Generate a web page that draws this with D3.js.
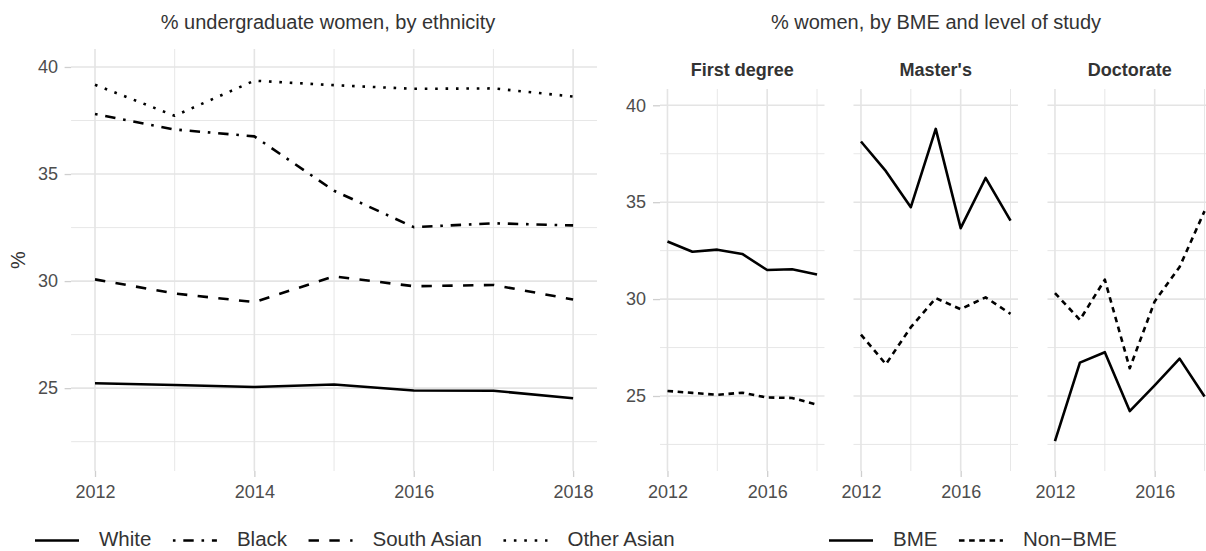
<!DOCTYPE html>
<html>
<head>
<meta charset="utf-8">
<script src="https://cdn.jsdelivr.net/npm/d3@7"></script>
<style>
  html, body { margin: 0; padding: 0; background: #fff; }
  svg { display: block; font-family: "Liberation Sans", Arial, Helvetica, sans-serif; }
</style>
</head>
<body>
<svg id="chart" width="1206" height="551"></svg>
<script>
// ---------------- DATA ----------------
const years = [2012, 2013, 2014, 2015, 2016, 2017, 2018];

// Left: % undergraduate women, by ethnicity
const ethnicities = ["White", "Black", "South Asian", "Other Asian"];
const white      = [25.23, 25.15, 25.05, 25.17, 24.89, 24.88, 24.53];
const black      = [37.80, 37.08, 36.76, 34.22, 32.52, 32.70, 32.60];
const southAsian = [30.08, 29.42, 29.02, 30.22, 29.76, 29.82, 29.14];
const otherAsian = [39.17, 37.72, 39.36, 39.15, 38.98, 39.00, 38.62];

// Right: % women, by BME and level of study
const levels = ["First degree", "Master's", "Doctorate"];
const groups = ["BME", "Non\u2212BME"];
const firstBME      = [32.97, 32.44, 32.55, 32.33, 31.50, 31.54, 31.27];
const firstNonBME   = [25.26, 25.16, 25.06, 25.17, 24.92, 24.90, 24.55];
const mastersBME    = [38.13, 36.60, 34.74, 38.78, 33.66, 36.25, 34.05];
const mastersNonBME = [28.17, 26.64, 28.55, 30.05, 29.48, 30.09, 29.24];
const doctBME       = [22.67, 26.72, 27.26, 24.22, 25.55, 26.93, 24.97];
const doctNonBME    = [30.31, 28.93, 31.00, 26.43, 29.88, 31.66, 34.54];

// Ticks
const yTicks = [25, 30, 35, 40];
const yMinor = [22.5, 27.5, 32.5, 37.5];
const xTicksLeft = [2012, 2014, 2016, 2018];
const xMinorLeft = [2013, 2015, 2017];
const xTicksRight = [2012, 2016];
const xMinorRight = [2014, 2018];

// ---------------- LAYOUT / STYLE ----------------
const svg = d3.select("#chart");
const W = 1206, H = 551;
svg.append("rect").attr("width", W).attr("height", H).attr("fill", "#fff");

const lw = 2.6;
const dashes = {
  "White": null,
  "Black": [lw, 3*lw, 4*lw, 3*lw].join(","),
  "South Asian": [4*lw, 4*lw].join(","),
  "Other Asian": [lw, 3*lw].join(","),
  "BME": null,
  "Non\u2212BME": [5.6, 4.6].join(",")
};
const gridCol = "#E4E4E4";
const tickCol = "#CFCFCF";
const axisTextCol = "#4D4D4D";
const textCol = "#333333";
const yDomain = [21.13, 40.84];
const panelBottom = 471;

function drawGrid(g, x, y, xMaj, xMin, y0, y1, x0, x1) {
  g.selectAll(".ymin").data(yMinor).join("line")
    .attr("x1", x0).attr("x2", x1).attr("y1", d => y(d)).attr("y2", d => y(d))
    .attr("stroke", gridCol).attr("stroke-width", 0.9);
  g.selectAll(".xmin").data(xMin).join("line").attr("class","xmin")
    .attr("y1", y0).attr("y2", y1).attr("x1", d => x(d)).attr("x2", d => x(d))
    .attr("stroke", gridCol).attr("stroke-width", 0.9);
  g.selectAll(".ymaj").data(yTicks).join("line").attr("class","ymaj")
    .attr("x1", x0).attr("x2", x1).attr("y1", d => y(d)).attr("y2", d => y(d))
    .attr("stroke", gridCol).attr("stroke-width", 1.6);
  g.selectAll(".xmaj").data(xMaj).join("line").attr("class","xmaj")
    .attr("y1", y0).attr("y2", y1).attr("x1", d => x(d)).attr("x2", d => x(d))
    .attr("stroke", gridCol).attr("stroke-width", 1.6);
}

function styleAxis(sel) {
  sel.select(".domain").remove();
  sel.selectAll(".tick line").attr("stroke", tickCol).attr("stroke-width", 1.3);
  sel.selectAll(".tick text").attr("fill", axisTextCol).style("font-size", "18px")
    .style("font-family", "'Liberation Sans', Arial, sans-serif");
}

const line = (x, y) => d3.line().x((d, i) => x(years[i])).y(d => y(d));

// ---------------- LEFT PLOT ----------------
const L = { x0: 71.1, x1: 597, top: 49, bottom: panelBottom };
const xL = d3.scaleLinear().domain([2011.7, 2018.3]).range([L.x0, L.x1]);
const yL = d3.scaleLinear().domain(yDomain).range([L.bottom, L.top]);
const gL = svg.append("g");
drawGrid(gL, xL, yL, xTicksLeft, xMinorLeft, L.top, L.bottom, L.x0, L.x1);

gL.append("g").attr("transform", `translate(${L.x0},0)`)
  .call(d3.axisLeft(yL).tickValues(yTicks).tickSize(6.5).tickPadding(6.5).tickFormat(d3.format("d")))
  .call(styleAxis);
gL.append("g").attr("transform", `translate(0,${L.bottom})`)
  .call(d3.axisBottom(xL).tickValues(xTicksLeft).tickSize(6).tickPadding(8).tickFormat(d3.format("d")))
  .call(styleAxis);

const leftSeries = [white, black, southAsian, otherAsian];
ethnicities.forEach((name, k) => {
  gL.append("path").datum(leftSeries[k])
    .attr("d", line(xL, yL))
    .attr("fill", "none").attr("stroke", "#000").attr("stroke-width", lw)
    .attr("stroke-linejoin", "round").attr("stroke-linecap", "butt")
    .attr("stroke-dasharray", dashes[name]);
});

svg.append("text").attr("x", (L.x0 + L.x1) / 2 - 6).attr("y", 29)
  .attr("text-anchor", "middle").attr("fill", textCol).style("font-size", "20px")
  .text("% undergraduate women, by ethnicity");

svg.append("text").attr("transform", `translate(25,${(L.top + L.bottom) / 2}) rotate(-90)`)
  .attr("text-anchor", "middle").attr("fill", textCol).style("font-size", "20px")
  .text("%");

// ---------------- RIGHT PLOT (facets) ----------------
const R = { top: 89, bottom: panelBottom, width: 164.5, starts: [660, 853.5, 1047.5] };
const yR = d3.scaleLinear().domain(yDomain).range([R.bottom, R.top]);
const rightSeries = [[firstBME, firstNonBME], [mastersBME, mastersNonBME], [doctBME, doctNonBME]];

levels.forEach((lev, f) => {
  const x0 = R.starts[f], x1 = x0 + R.width;
  const xR = d3.scaleLinear().domain([2011.7, 2018.3]).range([x0, x1]);
  const g = svg.append("g");
  drawGrid(g, xR, yR, xTicksRight, xMinorRight, R.top, R.bottom, x0, x1);
  if (f === 0) {
    g.append("g").attr("transform", `translate(${x0},0)`)
      .call(d3.axisLeft(yR).tickValues(yTicks).tickSize(7).tickPadding(7).tickFormat(d3.format("d")))
      .call(styleAxis);
  }
  g.append("g").attr("transform", `translate(0,${R.bottom})`)
    .call(d3.axisBottom(xR).tickValues(xTicksRight).tickSize(6).tickPadding(8).tickFormat(d3.format("d")))
    .call(styleAxis);
  groups.forEach((grp, k) => {
    g.append("path").datum(rightSeries[f][k])
      .attr("d", line(xR, yR))
      .attr("fill", "none").attr("stroke", "#000").attr("stroke-width", lw)
      .attr("stroke-linejoin", "round").attr("stroke-linecap", "butt")
      .attr("stroke-dasharray", dashes[grp]);
  });
  svg.append("text").attr("x", (x0 + x1) / 2).attr("y", 75.5)
    .attr("text-anchor", "middle").attr("fill", textCol)
    .style("font-size", "18px").style("font-weight", "bold")
    .text(lev);
});

svg.append("text").attr("x", (R.starts[0] + R.starts[2] + R.width) / 2).attr("y", 29)
  .attr("text-anchor", "middle").attr("fill", textCol).style("font-size", "20px")
  .text("% women, by BME and level of study");

// ---------------- LEGENDS ----------------
function legend(items, startX, y) {
  let x = startX;
  const g = svg.append("g");
  items.forEach(name => {
    g.append("line").attr("x1", x).attr("x2", x + 44).attr("y1", y).attr("y2", y)
      .attr("stroke", "#000").attr("stroke-width", lw)
      .attr("stroke-dasharray", dashes[name]);
    const t = g.append("text").attr("x", x + 64).attr("y", y + 5.8)
      .attr("fill", textCol).style("font-size", "20.5px").text(name);
    x = x + 64 + t.node().getComputedTextLength() + 21.5;
  });
}
legend(ethnicities, 35, 540.5);
legend(groups, 829, 540.5);
</script>
</body>
</html>
